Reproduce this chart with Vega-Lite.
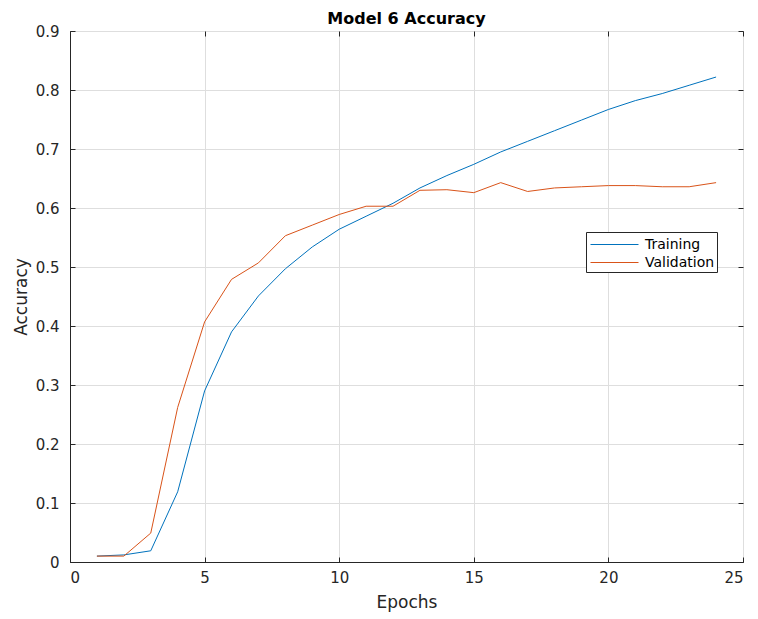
{
  "$schema": "https://vega.github.io/schema/vega-lite/v6.json",
  "width": 673,
  "height": 531,
  "autosize": {"type": "none"},
  "padding": {"left": 70, "top": 31, "right": 15, "bottom": 57},
  "background": "white",
  "title": {"text": "Model 6 Accuracy", "font": "DejaVu Sans", "fontSize": 16, "fontWeight": "bold", "color": "#000000", "offset": -3},
  "config": {
    "view": {"stroke": "#262626", "strokeWidth": 1},
    "axis": {"labelFont": "DejaVu Sans", "titleFont": "DejaVu Sans", "labelFontSize": 15, "titleFontSize": 17, "titleFontWeight": "normal", "labelColor": "#262626", "titleColor": "#262626", "domainColor": "#262626", "tickColor": "#262626", "gridColor": "#dedede", "gridOpacity": 1, "tickSize": -5}
  },
  "data": {"values": [
    {"epoch": 1, "acc": 0.010, "series": "Training"},
    {"epoch": 2, "acc": 0.012, "series": "Training"},
    {"epoch": 3, "acc": 0.019, "series": "Training"},
    {"epoch": 4, "acc": 0.119, "series": "Training"},
    {"epoch": 5, "acc": 0.290, "series": "Training"},
    {"epoch": 6, "acc": 0.390, "series": "Training"},
    {"epoch": 7, "acc": 0.451, "series": "Training"},
    {"epoch": 8, "acc": 0.497, "series": "Training"},
    {"epoch": 9, "acc": 0.534, "series": "Training"},
    {"epoch": 10, "acc": 0.564, "series": "Training"},
    {"epoch": 11, "acc": 0.586, "series": "Training"},
    {"epoch": 12, "acc": 0.608, "series": "Training"},
    {"epoch": 13, "acc": 0.634, "series": "Training"},
    {"epoch": 14, "acc": 0.655, "series": "Training"},
    {"epoch": 15, "acc": 0.674, "series": "Training"},
    {"epoch": 16, "acc": 0.695, "series": "Training"},
    {"epoch": 17, "acc": 0.713, "series": "Training"},
    {"epoch": 18, "acc": 0.731, "series": "Training"},
    {"epoch": 19, "acc": 0.749, "series": "Training"},
    {"epoch": 20, "acc": 0.767, "series": "Training"},
    {"epoch": 21, "acc": 0.782, "series": "Training"},
    {"epoch": 22, "acc": 0.794, "series": "Training"},
    {"epoch": 23, "acc": 0.808, "series": "Training"},
    {"epoch": 24, "acc": 0.822, "series": "Training"},
    {"epoch": 1, "acc": 0.010, "series": "Validation"},
    {"epoch": 2, "acc": 0.010, "series": "Validation"},
    {"epoch": 3, "acc": 0.049, "series": "Validation"},
    {"epoch": 4, "acc": 0.262, "series": "Validation"},
    {"epoch": 5, "acc": 0.407, "series": "Validation"},
    {"epoch": 6, "acc": 0.479, "series": "Validation"},
    {"epoch": 7, "acc": 0.507, "series": "Validation"},
    {"epoch": 8, "acc": 0.553, "series": "Validation"},
    {"epoch": 9, "acc": 0.571, "series": "Validation"},
    {"epoch": 10, "acc": 0.589, "series": "Validation"},
    {"epoch": 11, "acc": 0.603, "series": "Validation"},
    {"epoch": 12, "acc": 0.603, "series": "Validation"},
    {"epoch": 13, "acc": 0.630, "series": "Validation"},
    {"epoch": 14, "acc": 0.631, "series": "Validation"},
    {"epoch": 15, "acc": 0.626, "series": "Validation"},
    {"epoch": 16, "acc": 0.643, "series": "Validation"},
    {"epoch": 17, "acc": 0.628, "series": "Validation"},
    {"epoch": 18, "acc": 0.634, "series": "Validation"},
    {"epoch": 19, "acc": 0.636, "series": "Validation"},
    {"epoch": 20, "acc": 0.638, "series": "Validation"},
    {"epoch": 21, "acc": 0.638, "series": "Validation"},
    {"epoch": 22, "acc": 0.636, "series": "Validation"},
    {"epoch": 23, "acc": 0.636, "series": "Validation"},
    {"epoch": 24, "acc": 0.643, "series": "Validation"}
  ]},
  "layer": [
    {
      "mark": {"type": "line", "strokeWidth": 1},
      "encoding": {
        "x": {"field": "epoch", "type": "quantitative", "scale": {"domain": [0, 25], "nice": false, "zero": false}, "axis": {"title": "Epochs", "values": [0, 5, 10, 15, 20, 25], "format": "d", "labelPadding": 13, "titlePadding": 9}},
        "y": {"field": "acc", "type": "quantitative", "scale": {"domain": [0, 0.9], "nice": false}, "axis": {"title": "Accuracy", "values": [0, 0.1, 0.2, 0.3, 0.4, 0.5, 0.6, 0.7, 0.8, 0.9], "format": "~g", "labelPadding": 16, "titlePadding": 5}},
        "color": {"field": "series", "type": "nominal", "scale": {"domain": ["Training", "Validation"], "range": ["#0072BD", "#D95319"]},
          "legend": {"title": null, "orient": "none", "legendX": 516, "legendY": 201, "strokeColor": "#262626", "fillColor": "white", "padding": 2, "symbolType": "M-2.4,0H2.4", "symbolSize": 400, "symbolStrokeWidth": 1, "symbolOffset": 16, "labelFont": "DejaVu Sans", "labelFontSize": 14, "labelColor": "#000000", "rowPadding": 0, "labelOffset": 20}}
      }
    },
    {
      "mark": {"type": "point", "opacity": 0},
      "encoding": {
        "x": {"field": "epoch", "type": "quantitative", "scale": {"domain": [0, 25], "nice": false, "zero": false}, "axis": {"orient": "top", "title": null, "labels": false, "grid": false, "domain": false, "values": [0, 5, 10, 15, 20, 25]}},
        "y": {"field": "acc", "type": "quantitative", "scale": {"domain": [0, 0.9], "nice": false}, "axis": {"orient": "right", "title": null, "labels": false, "grid": false, "domain": false, "values": [0, 0.1, 0.2, 0.3, 0.4, 0.5, 0.6, 0.7, 0.8, 0.9]}}
      }
    }
  ],
  "resolve": {"scale": {"x": "independent", "y": "independent"}}
}
